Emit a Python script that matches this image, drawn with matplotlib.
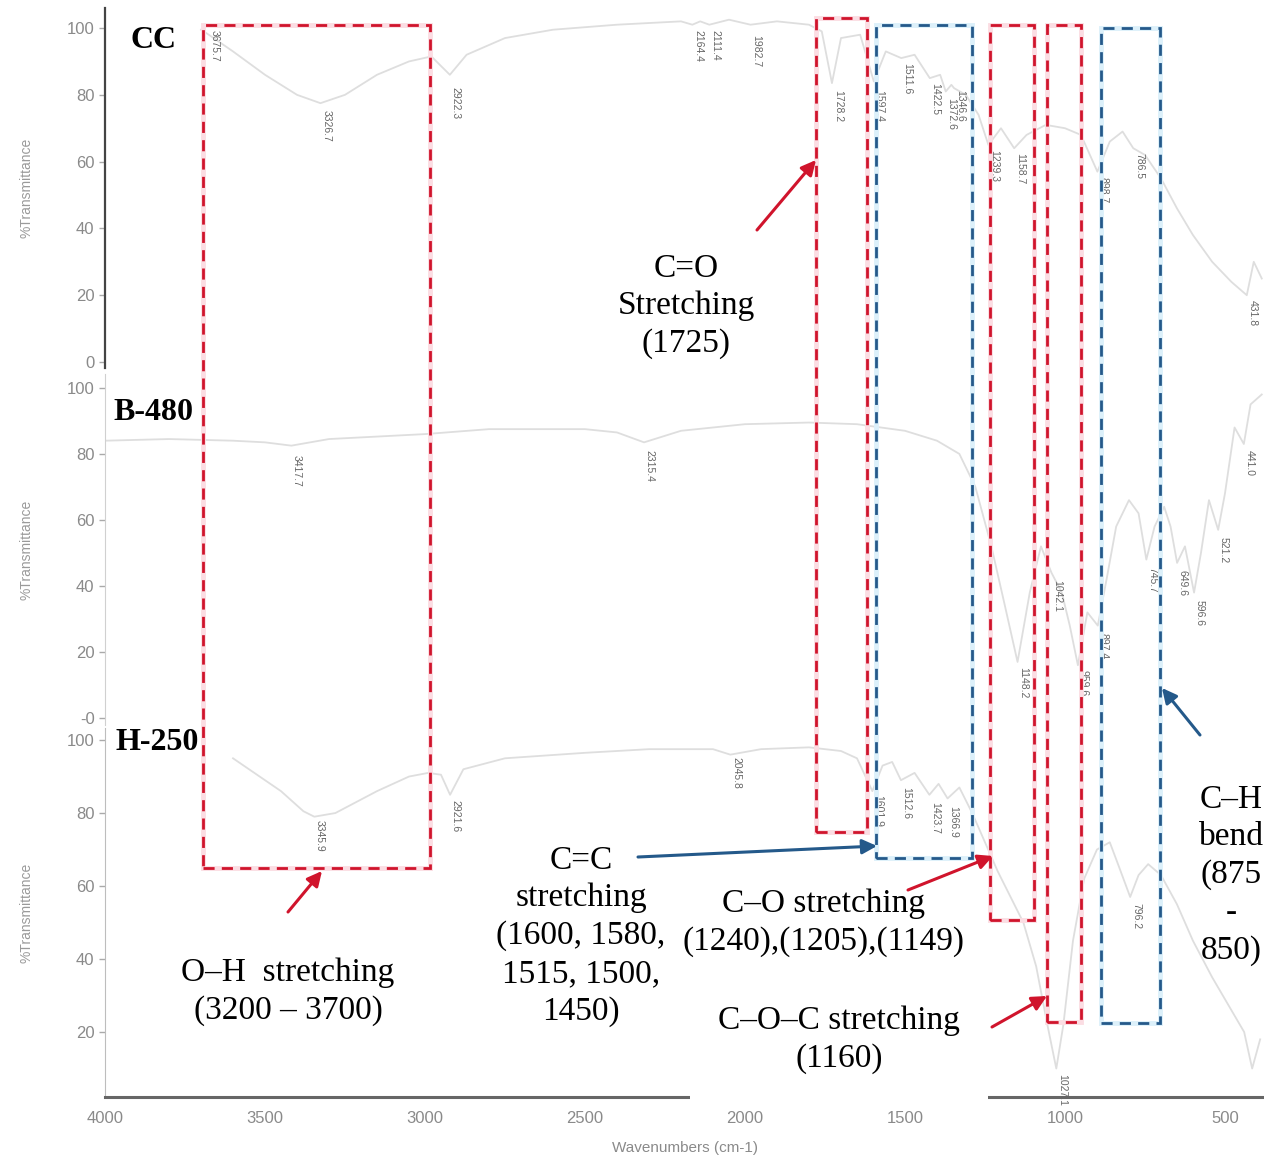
"""
FTIR spectra of CC, B-480 and H-250 stacked on a shared wavenumber axis,
with dashed boxes and arrows marking the functional-group bands.
"""

import matplotlib
matplotlib.use("Agg")
import matplotlib.pyplot as plt
import matplotlib.transforms as mtransforms
from matplotlib.patches import Rectangle, FancyArrowPatch

W, H = 1264, 1160

# ---- spectra (wavenumber cm-1, %T) ----
cc_wn = [3700, 3675.7, 3600, 3500, 3400, 3326.7, 3250, 3150, 3050, 2980, 2922.3, 2870,
         2750, 2600, 2400, 2200, 2164.4, 2140, 2111.4, 2050, 1982.7, 1900, 1800, 1760,
         1728.2, 1700, 1640, 1597.4, 1560, 1511.6, 1470, 1422.5, 1390, 1372.6, 1355,
         1346.6, 1310, 1270, 1239.3, 1200, 1158.7, 1120, 1060, 1000, 950, 898.7, 860,
         820, 786.5, 750, 700, 650, 600, 540, 480, 431.8, 410, 385]
cc_t = [99.5, 98, 93, 86, 80, 77.5, 80, 86, 90, 91.5, 86, 92,
        97, 99.5, 101, 102, 101, 102, 101, 102.5, 101, 102, 101, 99,
        83.5, 97, 98, 84, 93, 91, 92, 85, 86, 81, 83,
        82, 80, 74, 65, 70, 64, 68, 71, 70, 68, 57, 66,
        69, 64, 62, 55, 46, 38, 30, 24, 20, 30, 25]

b480_wn = [4000, 3800, 3600, 3500, 3417.7, 3300, 3000, 2800, 2500, 2400, 2315.4, 2200,
           2000, 1800, 1650, 1500, 1400, 1330, 1280, 1230, 1190, 1148.2, 1110, 1075,
           1042.1, 1010, 985, 959.6, 930, 897.4, 870, 840, 800, 770, 745.7, 720, 690,
           670, 649.6, 625, 596.6, 575, 550, 521.2, 500, 470, 441.0, 420, 385]
b480_t = [84, 84.5, 84, 83.5, 82.5, 84.5, 86, 87.5, 87.5, 86.5, 83.5, 87,
          89, 89.5, 89, 87, 84, 80, 70, 52, 35, 17, 38, 52,
          44, 38, 28, 16, 32, 28, 42, 58, 66, 62, 48, 58, 64,
          58, 47, 52, 38, 50, 66, 57, 68, 88, 83, 95, 98]

h250_wn = [3600, 3550, 3450, 3380, 3345.9, 3280, 3150, 3050, 2990, 2950, 2921.6, 2880,
           2750, 2500, 2300, 2100, 2045.8, 1950, 1800, 1700, 1650, 1601.9, 1570, 1540,
           1512.6, 1470, 1423.7, 1395, 1366.9, 1330, 1290, 1250, 1210, 1170, 1130, 1090,
           1055, 1027.1, 1005, 975, 940, 900, 860, 830, 796.2, 770, 740, 700, 650, 600,
           540, 480, 440, 415, 390]
h250_t = [95, 92, 86, 80.5, 79, 80, 86, 90, 91, 90.5, 85, 92,
          95, 96.5, 97.5, 97.5, 96, 97.5, 98, 97, 95, 86, 93, 94,
          89, 91, 85, 88, 84, 87, 80, 72, 64, 57, 50, 38,
          22, 10, 22, 45, 62, 70, 72, 65, 57, 63, 66, 63, 55, 45,
          35, 26, 20, 10, 18]

# ---- peak labels: wavenumber and %T where the label starts ----
cc_peaks = [3675.7, 3326.7, 2922.3, 2164.4, 2111.4, 1982.7, 1728.2, 1597.4, 1511.6,
            1422.5, 1372.6, 1346.6, 1239.3, 1158.7, 898.7, 786.5, 431.8]
cc_peak_t = [99.4, 75.5, 82.3, 99.4, 99.4, 98.0, 81.4, 81.4, 89.5,
             83.5, 79.0, 81.4, 63.5, 62.6, 55.4, 62.6, 18.6]

b480_peaks = [3417.7, 2315.4, 1148.2, 1042.1, 959.6, 897.4, 745.7, 649.6, 596.6,
              521.2, 441.0]
b480_peak_t = [79.7, 81.2, 15.4, 41.8, 14.5, 25.8, 45.8, 44.8, 35.8, 54.8, 81.2]

h250_peaks = [3345.9, 2921.6, 2045.8, 1601.9, 1512.6, 1423.7, 1366.9, 1027.1, 796.2]
h250_peak_t = [78.0, 83.6, 95.3, 84.9, 87.0, 83.0, 82.0, 8.5, 55.3]

# ---- band boxes: wavenumber range ----
box_hi = [3694, 1778, 1591, 1234, 1056, 888]
box_lo = [2984, 1619, 1291, 1097, 950, 703]
box_kind = ["red", "red", "blue", "red", "red", "blue"]
# vertical extent of each box in pixels (top, bottom)
box_top_px = [25, 18, 25, 25, 25, 28]
box_bot_px = [868, 832, 858, 920, 1022, 1023]

x_ticks = [4000, 3500, 3000, 2500, 2000, 1500, 1000, 500]

RED = "#d0142c"
BLUE = "#24598a"
HALO = {"red": "#fbdde3", "blue": "#dcf0fa"}
EDGE = {"red": RED, "blue": BLUE}
LINE_C = "#dedede"
SERIF = "Liberation Serif"
SANS = "Liberation Sans"


def fxy(x, y):
    return x / W, 1 - y / H


fig = plt.figure(figsize=(W / 100, H / 100), dpi=100)
fig.patch.set_facecolor("white")

left = 105 / W
width = 1 - left
ax_top = fig.add_axes([left, 1 - 368 / H, width, 360 / H])
ax_mid = fig.add_axes([left, 1 - 725 / H, width, 351 / H], sharex=ax_top)
ax_bot = fig.add_axes([left, 1 - 1097 / H, width, 369 / H], sharex=ax_top)

ax_top.set_ylim(-1.8, 106)
ax_mid.set_ylim(-2.1, 104.2)
ax_bot.set_ylim(2.2, 103.3)
ax_bot.set_xlim(4000, 378)

panels = [
    (ax_top, cc_wn, cc_t, cc_peaks, cc_peak_t),
    (ax_mid, b480_wn, b480_t, b480_peaks, b480_peak_t),
    (ax_bot, h250_wn, h250_t, h250_peaks, h250_peak_t),
]

for ax, wn, t, peaks, peak_t in panels:
    ax.patch.set_alpha(0)
    ax.plot(wn, t, color=LINE_C, lw=1.3)
    for p, pt in zip(peaks, peak_t):
        ax.text(p - 18, pt, f"{p:.1f}", rotation=270, ha="center", va="top",
                fontsize=7.5, color="#666666", family=SANS)
    for side in ["top", "right"]:
        ax.spines[side].set_visible(False)
    ax.tick_params(axis="y", labelsize=12, labelcolor="#8a8a8a", color="#aaaaaa",
                   length=4, width=1)
    ax.set_ylabel("%Transmittance", fontsize=10, color="#9a9a9a", family=SANS)
    ax.yaxis.set_label_coords(-0.062, 0.5)

for ax in [ax_top, ax_mid]:
    ax.spines["bottom"].set_visible(False)
    ax.tick_params(axis="x", which="both", bottom=False, labelbottom=False)

ax_top.set_yticks([0, 20, 40, 60, 80, 100])
ax_mid.set_yticks([0, 20, 40, 60, 80, 100])
ax_mid.set_yticklabels(["-0", "20", "40", "60", "80", "100"])
ax_bot.set_yticks([20, 40, 60, 80, 100])
for ax in [ax_top, ax_mid, ax_bot]:
    for lab in ax.get_yticklabels():
        lab.set_family(SANS)

ax_top.spines["left"].set_color("#444444")
ax_top.spines["left"].set_linewidth(1.6)
ax_mid.spines["left"].set_color("#d0d0d0")
ax_bot.spines["left"].set_color("#bdbdbd")
ax_bot.spines["bottom"].set_color("#666666")
ax_bot.spines["bottom"].set_linewidth(2.2)

ax_bot.set_xticks(x_ticks)
ax_bot.tick_params(axis="x", length=0, pad=10, labelsize=12, labelcolor="#8a8a8a")
for lab in ax_bot.get_xticklabels():
    lab.set_family(SANS)

fig.text(*fxy(685, 1148), "Wavenumbers (cm-1)", ha="center", va="center",
         fontsize=11, color="#8a8a8a", family=SANS)

# sample names
fig.text(*fxy(130, 40), "CC", ha="left", va="center", fontsize=23,
         fontweight="bold", family=SERIF)
fig.text(*fxy(113, 413), "B-480", ha="left", va="center", fontsize=23,
         fontweight="bold", family=SERIF)
fig.text(*fxy(115, 742), "H-250", ha="left", va="center", fontsize=23,
         fontweight="bold", family=SERIF)

# dashed band boxes
blend = mtransforms.blended_transform_factory(ax_bot.transData, fig.transFigure)
for hi, lo, kind, ytop, ybot in zip(box_hi, box_lo, box_kind, box_top_px, box_bot_px):
    y0 = 1 - ybot / H
    hgt = (ybot - ytop) / H
    halo = Rectangle((hi, y0), lo - hi, hgt, transform=blend, fill=False,
                     ec=HALO[kind], lw=3.5, clip_on=False, zorder=2)
    rect = Rectangle((hi, y0), lo - hi, hgt, transform=blend, fill=False,
                     ec=EDGE[kind], lw=2, ls=(0, (4, 2.6)), clip_on=False, zorder=3)
    fig.add_artist(halo)
    fig.add_artist(rect)

# band annotations: text, centre (px), arrow tail, arrow head, colour
notes = [
    ("C=O\nStretching\n(1725)", (686, 306), (757, 230), (816, 160), RED),
    ("O\u2013H  stretching\n(3200 \u2013 3700)", (288, 992), (288, 912), (322, 871), RED),
    ("C=C\nstretching\n(1600, 1580,\n1515, 1500,\n1450)", (581, 936), (638, 857), (877, 846), BLUE),
    ("C\u2013O stretching\n(1240),(1205),(1149)", (824, 923), (908, 890), (993, 856), RED),
    ("C\u2013O\u2013C stretching\n(1160)", (839, 1040), (992, 1027), (1047, 996), RED),
    ("C\u2013H\nbend\n(875\n-\n850)", (1231, 875), (1200, 735), (1162, 688), BLUE),
]

for text, centre, tail, head, col in notes:
    kw = {}
    if text.startswith("C\u2013O\u2013C"):
        # white backing that breaks the x-axis line, as in the original
        kw["bbox"] = dict(boxstyle="square,pad=0.85", fc="white", ec="none")
    fig.text(*fxy(*centre), text, ha="center", va="center", ma="center",
             fontsize=24, linespacing=1.3, family=SERIF, zorder=5, **kw)
    arrow = FancyArrowPatch(fxy(*tail), fxy(*head), transform=fig.transFigure,
                            arrowstyle="-|>", mutation_scale=22, color=col, lw=2.2,
                            shrinkA=0, shrinkB=0, zorder=6)
    fig.add_artist(arrow)

fig.savefig("out.png", dpi=100, facecolor="white")
